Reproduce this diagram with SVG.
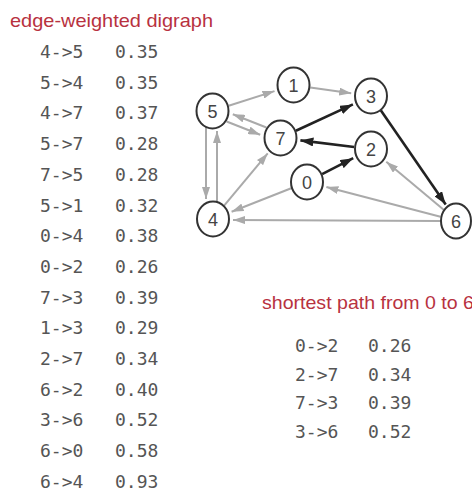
<svg xmlns="http://www.w3.org/2000/svg" width="472" height="492" viewBox="0 0 472 492">
<style>
.title{font-family:"Liberation Sans",Arial,sans-serif;font-size:19px;fill:#b8323f}
.tbl{font-family:"DejaVu Sans Mono","Liberation Mono",monospace;font-size:18px;fill:#555}
.node ellipse{fill:#fff;stroke:#333;stroke-width:2}
.node text{font-family:"Liberation Sans",Arial,sans-serif;font-size:18px;fill:#444;text-anchor:middle}
.g{stroke:#aaa;stroke-width:2;fill:none;marker-end:url(#ag)}
.b{stroke:#222;stroke-width:2.6;fill:none;marker-end:url(#ab)}
</style>
<defs>
<marker id="ag" markerUnits="userSpaceOnUse" markerWidth="12" markerHeight="8" refX="12" refY="4" orient="auto"><path d="M0,0 L12,4 L0,8 z" fill="#aaa"/></marker>
<marker id="ab" markerUnits="userSpaceOnUse" markerWidth="13" markerHeight="9" refX="13" refY="4.5" orient="auto"><path d="M0,0 L13,4.5 L0,9 z" fill="#222"/></marker>
</defs>
<text class="title" x="10" y="27" textLength="203" lengthAdjust="spacingAndGlyphs">edge-weighted digraph</text>
<g id="table-all" class="tbl">
<text x="40" y="58">4-&gt;5</text><text x="115" y="58">0.35</text>
<text x="40" y="88.7">5-&gt;4</text><text x="115" y="88.7">0.35</text>
<text x="40" y="119.4">4-&gt;7</text><text x="115" y="119.4">0.37</text>
<text x="40" y="150.1">5-&gt;7</text><text x="115" y="150.1">0.28</text>
<text x="40" y="180.8">7-&gt;5</text><text x="115" y="180.8">0.28</text>
<text x="40" y="211.5">5-&gt;1</text><text x="115" y="211.5">0.32</text>
<text x="40" y="242.2">0-&gt;4</text><text x="115" y="242.2">0.38</text>
<text x="40" y="272.9">0-&gt;2</text><text x="115" y="272.9">0.26</text>
<text x="40" y="303.6">7-&gt;3</text><text x="115" y="303.6">0.39</text>
<text x="40" y="334.3">1-&gt;3</text><text x="115" y="334.3">0.29</text>
<text x="40" y="365">2-&gt;7</text><text x="115" y="365">0.34</text>
<text x="40" y="395.7">6-&gt;2</text><text x="115" y="395.7">0.40</text>
<text x="40" y="426.4">3-&gt;6</text><text x="115" y="426.4">0.52</text>
<text x="40" y="457.1">6-&gt;0</text><text x="115" y="457.1">0.58</text>
<text x="40" y="487.8">6-&gt;4</text><text x="115" y="487.8">0.93</text>
</g>
<text class="title" x="262" y="309" textLength="212" lengthAdjust="spacingAndGlyphs">shortest path from 0 to 6</text>
<g id="table-path" class="tbl">
<text x="295" y="352">0-&gt;2</text><text x="368" y="352">0.26</text>
<text x="295" y="380.5">2-&gt;7</text><text x="368" y="380.5">0.34</text>
<text x="295" y="409">7-&gt;3</text><text x="368" y="409">0.39</text>
<text x="295" y="437.5">3-&gt;6</text><text x="368" y="437.5">0.52</text>
</g>
<g id="edges">
<line class="g" x1="206" y1="127" x2="206" y2="199"/>
<line class="g" x1="217" y1="203" x2="217" y2="131"/>
<line class="g" x1="228.7" y1="105.8" x2="274.5" y2="91.1"/>
<line class="g" x1="310.3" y1="87.4" x2="351.2" y2="93.2"/>
<line class="g" x1="266.4" y1="127.5" x2="232.8" y2="114.2"/>
<line class="g" x1="226.6" y1="121.5" x2="260.2" y2="134.8"/>
<line class="g" x1="223.9" y1="205.9" x2="267.7" y2="153.4"/>
<line class="g" x1="291.2" y1="188.2" x2="231.6" y2="211.7"/>
<line class="g" x1="440" y1="221" x2="233" y2="220"/>
<line class="g" x1="440.5" y1="216.7" x2="326.4" y2="187"/>
<line class="g" x1="444" y1="210.1" x2="386.3" y2="161.8"/>
<line class="b" x1="295.9" y1="130.8" x2="352.9" y2="104.4"/>
<line class="b" x1="354.1" y1="147" x2="300.4" y2="140.4"/>
<line class="b" x1="322.1" y1="174.2" x2="353.2" y2="158.2"/>
<line class="b" x1="380.6" y1="110" x2="445.7" y2="204.5"/>
</g>
<g id="node-0" class="node"><ellipse cx="307" cy="182" rx="16" ry="17.5"/><text x="307" y="188.5">0</text></g>
<g id="node-1" class="node"><ellipse cx="293.5" cy="85" rx="16" ry="17.5"/><text x="293.5" y="91.5">1</text></g>
<g id="node-2" class="node"><ellipse cx="371" cy="149" rx="16" ry="17.5"/><text x="371" y="155.5">2</text></g>
<g id="node-3" class="node"><ellipse cx="371" cy="96" rx="16" ry="17.5"/><text x="371" y="102.5">3</text></g>
<g id="node-4" class="node"><ellipse cx="213" cy="219" rx="16" ry="17.5"/><text x="213" y="225.5">4</text></g>
<g id="node-5" class="node"><ellipse cx="212.5" cy="111" rx="16" ry="17.5"/><text x="212.5" y="117.5">5</text></g>
<g id="node-6" class="node"><ellipse cx="456" cy="221" rx="15" ry="17.5"/><text x="456" y="227.5">6</text></g>
<g id="node-7" class="node"><ellipse cx="280.5" cy="138" rx="16" ry="17.5"/><text x="280.5" y="144.5">7</text></g>
</svg>
